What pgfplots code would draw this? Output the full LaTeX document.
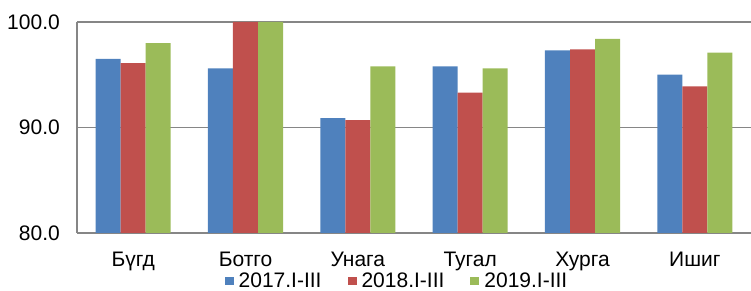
\documentclass[border=0pt]{standalone}
\usepackage{fontspec}
\setmainfont{Liberation Sans}
\usepackage{pgfplots}
\pgfplotsset{compat=1.18}
\definecolor{cblue}{HTML}{4F81BD}
\definecolor{cred}{HTML}{C0504D}
\definecolor{cgreen}{HTML}{9BBB59}
\definecolor{axgray}{HTML}{868686}
\begin{document}
\fontsize{21}{25}\selectfont
\begin{tikzpicture}
\begin{axis}[
  at={(0,0)}, anchor=south west,
  scale only axis, width=674pt, height=211pt,
  xmin=-0.5, xmax=5.5, ymin=80, ymax=100,
  xtick={0,1,2,3,4,5},
  xticklabels={Бүгд,Ботго,Унага,Тугал,Хурга,Ишиг},
  ytick={80,90,100},
  yticklabel style={/pgf/number format/fixed, /pgf/number format/fixed zerofill, /pgf/number format/precision=1, /pgf/number format/assume math mode=true},
  major tick length=0pt,
  axis x line*=bottom, axis y line*=left,
  axis line style={draw=axgray, line width=1.6pt},
  ymajorgrids, grid style={draw=axgray, line width=1.6pt},
  tick label style={font=\fontsize{21}{25}\selectfont},
  xticklabel style={anchor=base, yshift=-34pt},
  yticklabel style={anchor=east, xshift=-17pt, inner sep=0pt},
  ybar, bar width=0.2226,
  legend columns=3,
  legend style={draw=none, fill=none, at={(axis description cs:0.4748,-0.2295)}, anchor=center,
    font=\fontsize{21}{25}\selectfont,
    /tikz/every even column/.append style={column sep=24pt}},
  legend image code/.code={\fill[#1] (0pt,-4pt) rectangle (9pt,4pt); \path (12pt,0pt);},
]
\addplot[fill=cblue, draw=none, bar shift=-0.2226] coordinates {(0,96.5) (1,95.6) (2,90.9) (3,95.8) (4,97.3) (5,95.0)};
\addplot[fill=cred, draw=none, bar shift=0] coordinates {(0,96.1) (1,100.0) (2,90.7) (3,93.3) (4,97.4) (5,93.9)};
\addplot[fill=cgreen, draw=none, bar shift=0.2226] coordinates {(0,98.0) (1,100.0) (2,95.8) (3,95.6) (4,98.4) (5,97.1)};
\legend{2017.I-III, 2018.I-III, 2019.I-III}
\end{axis}
\pgfresetboundingbox
\path[use as bounding box] (-77pt,-58pt) rectangle (674pt,233pt);
\end{tikzpicture}
\end{document}
